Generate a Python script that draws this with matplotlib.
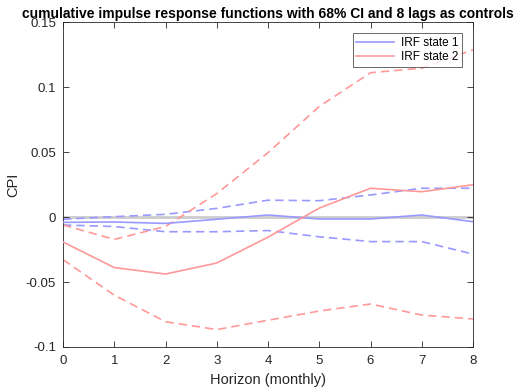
import matplotlib
matplotlib.use("Agg")
import matplotlib.pyplot as plt
import numpy as np

plt.rcParams['font.family'] = ['Liberation Sans', 'DejaVu Sans']

horizon = [0, 1, 2, 3, 4, 5, 6, 7, 8]
irf_state1 = [-0.0040, -0.0037, -0.0048, -0.0016, 0.0017, -0.0014, -0.0014, 0.0017, -0.0035]
irf_state1_hi = [-0.0016, 0.0004, 0.0022, 0.0068, 0.0131, 0.0127, 0.0171, 0.0223, 0.0223]
irf_state1_lo = [-0.0060, -0.0072, -0.0112, -0.0112, -0.0103, -0.0151, -0.0188, -0.0188, -0.0284]
irf_state2 = [-0.0191, -0.0388, -0.0438, -0.0353, -0.0154, 0.0070, 0.0223, 0.0196, 0.0250]
irf_state2_hi = [-0.0060, -0.0171, -0.0072, 0.0182, 0.0497, 0.0853, 0.1113, 0.1148, 0.1290]
irf_state2_lo = [-0.0327, -0.0601, -0.0805, -0.0866, -0.0794, -0.0723, -0.0669, -0.0754, -0.0784]

blue = (0.6, 0.6, 1.0)
red = (1.0, 0.6, 0.6)
dark = (0.15, 0.15, 0.15)

fig = plt.figure(figsize=(5.16, 3.87), dpi=100)
ax = fig.add_axes([0.1221, 0.1034, 0.7946, 0.8385])

ax.axhline(0, color=(0.8, 0.8, 0.8), lw=2, zorder=1)
ax.plot(horizon, irf_state1, color=blue, lw=1.2, label='IRF state 1', zorder=3)
ax.plot(horizon, irf_state2, color=red, lw=1.2, label='IRF state 2', zorder=3)
ax.plot(horizon, irf_state1_hi, color=blue, lw=1.2, ls=(0, (5, 3)), zorder=2)
ax.plot(horizon, irf_state1_lo, color=blue, lw=1.2, ls=(0, (5, 3)), zorder=2)
ax.plot(horizon, irf_state2_hi, color=red, lw=1.2, ls=(0, (5, 3)), zorder=2)
ax.plot(horizon, irf_state2_lo, color=red, lw=1.2, ls=(0, (5, 3)), zorder=2)

ax.set_xlim(0, 8)
ax.set_ylim(-0.1, 0.15)
ax.set_xticks(horizon)
ax.set_yticks([-0.1, -0.05, 0, 0.05, 0.1, 0.15])
ax.set_yticklabels(['-0.1', '-0.05', '0', '0.05', '0.1', '0.15'])
ax.tick_params(direction='in', top=True, right=True, length=4, width=0.6,
               colors=dark, labelsize=9.5)
ax.tick_params(axis='x', pad=6)
ax.tick_params(axis='y', pad=5)
for s in ax.spines.values():
    s.set_color(dark)
    s.set_linewidth(0.6)

ax.set_xlabel('Horizon (monthly)', fontsize=10.5, color=dark, labelpad=4)
ax.set_ylabel('CPI', fontsize=10.5, color=dark, labelpad=4)
ax.set_title('cumulative impulse response functions with 68% CI and 8 lags as controls',
             fontsize=10, fontweight='bold', pad=3)

leg = ax.legend(loc='upper right', fontsize=8.5, frameon=True, fancybox=False,
                edgecolor=dark, borderaxespad=0.9, handlelength=3.2,
                borderpad=0.3, labelspacing=0.2, handletextpad=0.6)
leg.get_frame().set_linewidth(0.6)

fig.savefig('out.png', dpi=100)
